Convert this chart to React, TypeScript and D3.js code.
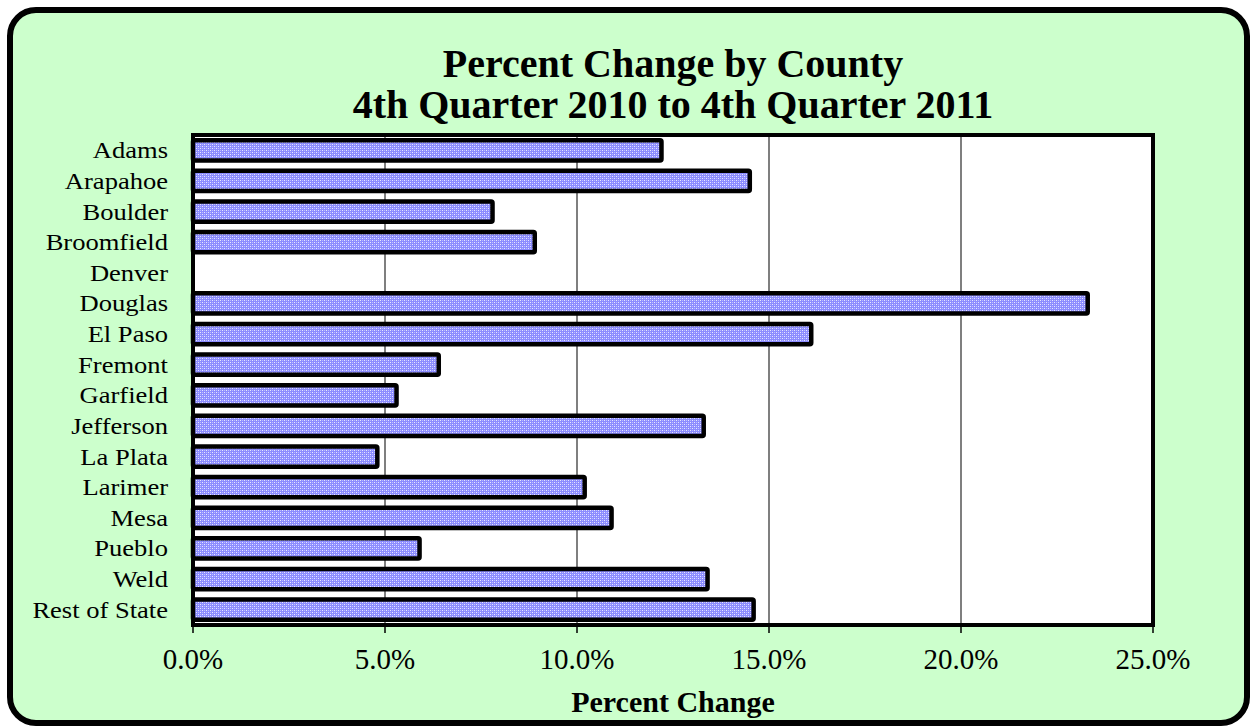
import React, { useEffect, useRef } from 'react';
import * as d3 from 'd3';

const counties = ['Adams', 'Arapahoe', 'Boulder', 'Broomfield', 'Denver', 'Douglas', 'El Paso', 'Fremont',
    'Garfield', 'Jefferson', 'La Plata', 'Larimer', 'Mesa', 'Pueblo', 'Weld', 'Rest of State'];
const pctChange = [12.2, 14.5, 7.8, 8.9, null, 23.3, 16.1, 6.4, 5.3, 13.3, 4.8, 10.2, 10.9, 5.9, 13.4, 14.6];
const xTicks = [0, 5, 10, 15, 20, 25];
const titleLines = ['Percent Change by County', '4th Quarter 2010 to 4th Quarter 2011'];

const W = 1253;
const H = 728;

const App = () => {
    const svgRef = useRef(null);

    useEffect(() => {
        document.body.style.margin = '0';
        const svg = d3.select(svgRef.current)
            .attr('width', W)
            .attr('height', H)
            .style('display', 'block');

        svg.selectAll('*').remove();

        // dotted fill like the old excel pattern
        const defs = svg.append('defs');
        const pat = defs.append('pattern')
            .attr('id', 'dots')
            .attr('width', 4)
            .attr('height', 4)
            .attr('patternUnits', 'userSpaceOnUse');
        pat.append('rect').attr('width', 4).attr('height', 4).attr('fill', '#8c8cff');
        [[0, 0], [2, 2]].forEach(([px, py]) => {
            pat.append('rect').attr('x', px).attr('y', py).attr('width', 1).attr('height', 1).attr('fill', '#e8e8ff');
        });
        [[2, 0], [0, 2]].forEach(([px, py]) => {
            pat.append('rect').attr('x', px).attr('y', py).attr('width', 1).attr('height', 1).attr('fill', '#bcbcff');
        });

        // frame
        svg.append('rect')
            .attr('x', 10).attr('y', 10)
            .attr('width', W - 16).attr('height', H - 15)
            .attr('rx', 26)
            .attr('fill', '#ccffcc')
            .attr('stroke', '#000')
            .attr('stroke-width', 6);

        const left = 193, right = 1153, top = 135, bottom = 625;

        const x = d3.scaleLinear().domain([0, 25]).range([left, right]);
        const y = d3.scaleBand().domain(counties).range([top, bottom]).paddingInner(0.34).paddingOuter(0.17);

        svg.append('rect')
            .attr('x', left).attr('y', top)
            .attr('width', right - left).attr('height', bottom - top)
            .attr('fill', '#fff');

        svg.append('g')
            .selectAll('line')
            .data(xTicks.slice(1, -1))
            .enter()
            .append('line')
            .attr('x1', (d) => x(d)).attr('x2', (d) => x(d))
            .attr('y1', top).attr('y2', bottom)
            .attr('stroke', '#555')
            .attr('stroke-width', 1.5);

        const data = counties.map((c, i) => ({ county: c, value: pctChange[i] }));

        svg.append('g')
            .selectAll('rect')
            .data(data.filter((d) => d.value != null))
            .enter()
            .append('rect')
            .attr('x', x(0))
            .attr('y', (d) => y(d.county))
            .attr('width', (d) => x(d.value) - x(0))
            .attr('height', y.bandwidth())
            .attr('rx', 1.5)
            .attr('fill', 'url(#dots)')
            .attr('stroke', '#000')
            .attr('stroke-width', 4.5);

        // plot border
        svg.append('rect')
            .attr('x', left).attr('y', top)
            .attr('width', right - left).attr('height', bottom - top)
            .attr('fill', 'none')
            .attr('stroke', '#000')
            .attr('stroke-width', 4);

        // ticks
        svg.append('g')
            .selectAll('line')
            .data(xTicks)
            .enter()
            .append('line')
            .attr('x1', (d) => x(d)).attr('x2', (d) => x(d))
            .attr('y1', bottom).attr('y2', bottom + 8)
            .attr('stroke', '#000')
            .attr('stroke-width', 1.5);

        const font = '"Liberation Serif", "Times New Roman", serif';

        svg.append('g')
            .selectAll('text')
            .data(xTicks)
            .enter()
            .append('text')
            .attr('x', (d) => x(d))
            .attr('y', 669)
            .attr('text-anchor', 'middle')
            .style('font-family', font)
            .style('font-size', '29px')
            .text((d) => d.toFixed(1) + '%');

        svg.append('g')
            .selectAll('text')
            .data(counties)
            .enter()
            .append('text')
            .attr('transform', (d) => `translate(168, ${y(d) + y.bandwidth() / 2 + 8}) scale(1.18, 1)`)
            .attr('text-anchor', 'end')
            .style('font-family', font)
            .style('font-size', '22.5px')
            .text((d) => d);

        svg.append('g')
            .selectAll('text')
            .data(titleLines)
            .enter()
            .append('text')
            .attr('x', 673)
            .attr('y', (d, i) => 77 + i * 41)
            .attr('text-anchor', 'middle')
            .style('font-family', font)
            .style('font-weight', 'bold')
            .style('font-size', '40px')
            .text((d) => d);

        svg.append('text')
            .attr('x', 673)
            .attr('y', 712)
            .attr('text-anchor', 'middle')
            .style('font-family', font)
            .style('font-weight', 'bold')
            .style('font-size', '30px')
            .text('Percent Change');
    }, []);

    return <svg ref={svgRef}></svg>;
};

export default App;
